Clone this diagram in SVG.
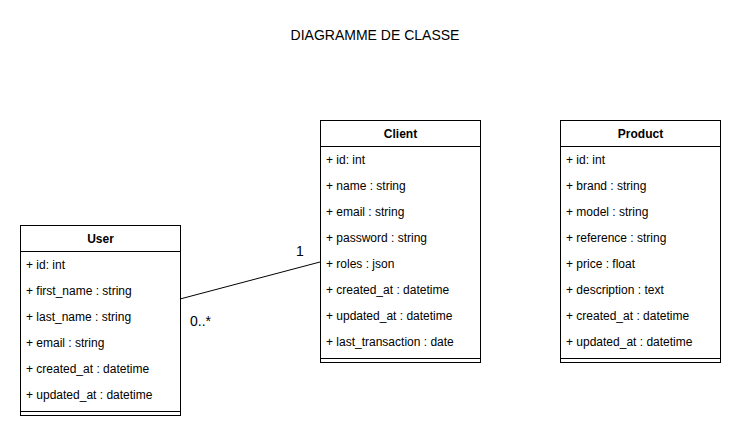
<svg xmlns="http://www.w3.org/2000/svg" width="741" height="436" viewBox="0 0 741 436">
<style>
.box{fill:#ffffff;stroke:#000000;stroke-width:1}
.ln{stroke:#000000;stroke-width:1;fill:none}
.hd{font-family:"Liberation Sans",Arial,sans-serif;font-size:12px;font-weight:bold;fill:#000000;text-anchor:middle}
.at{font-family:"Liberation Sans",Arial,sans-serif;font-size:12px;fill:#000000}
.lb{font-family:"Liberation Sans",Arial,sans-serif;font-size:14px;fill:#000000}
</style>
<rect x="0" y="0" width="741" height="436" fill="#ffffff"/>
<text id="title" class="lb" x="375" y="40" text-anchor="middle">DIAGRAMME DE CLASSE</text>
<g id="connectors">
<line class="ln" x1="180" y1="299" x2="320" y2="262"/>
<text class="lb" x="296" y="256">1</text>
<text class="lb" x="190" y="326">0..*</text>
</g>
<g id="user">
<rect class="box" x="20.5" y="225.5" width="160" height="190"/>
<line class="ln" x1="20.5" y1="251.5" x2="180.5" y2="251.5"/>
<line class="ln" x1="20.5" y1="411.5" x2="180.5" y2="411.5"/>
<text class="hd" x="100.5" y="243">User</text>
<text class="at" x="26" y="269">+ id: int</text>
<text class="at" x="26" y="295">+ first_name : string</text>
<text class="at" x="26" y="321">+ last_name : string</text>
<text class="at" x="26" y="347">+ email : string</text>
<text class="at" x="26" y="373">+ created_at : datetime</text>
<text class="at" x="26" y="399">+ updated_at : datetime</text>
</g>
<g id="client">
<rect class="box" x="320.5" y="120.5" width="160" height="242"/>
<line class="ln" x1="320.5" y1="146.5" x2="480.5" y2="146.5"/>
<line class="ln" x1="320.5" y1="358.5" x2="480.5" y2="358.5"/>
<text class="hd" x="400.5" y="138">Client</text>
<text class="at" x="326" y="164">+ id: int</text>
<text class="at" x="326" y="190">+ name : string</text>
<text class="at" x="326" y="216">+ email : string</text>
<text class="at" x="326" y="242">+ password : string</text>
<text class="at" x="326" y="268">+ roles : json</text>
<text class="at" x="326" y="294">+ created_at : datetime</text>
<text class="at" x="326" y="320">+ updated_at : datetime</text>
<text class="at" x="326" y="346">+ last_transaction : date</text>
</g>
<g id="product">
<rect class="box" x="560.5" y="120.5" width="160" height="242"/>
<line class="ln" x1="560.5" y1="146.5" x2="720.5" y2="146.5"/>
<line class="ln" x1="560.5" y1="358.5" x2="720.5" y2="358.5"/>
<text class="hd" x="640.5" y="138">Product</text>
<text class="at" x="566" y="164">+ id: int</text>
<text class="at" x="566" y="190">+ brand : string</text>
<text class="at" x="566" y="216">+ model : string</text>
<text class="at" x="566" y="242">+ reference : string</text>
<text class="at" x="566" y="268">+ price : float</text>
<text class="at" x="566" y="294">+ description : text</text>
<text class="at" x="566" y="320">+ created_at : datetime</text>
<text class="at" x="566" y="346">+ updated_at : datetime</text>
</g>
</svg>
